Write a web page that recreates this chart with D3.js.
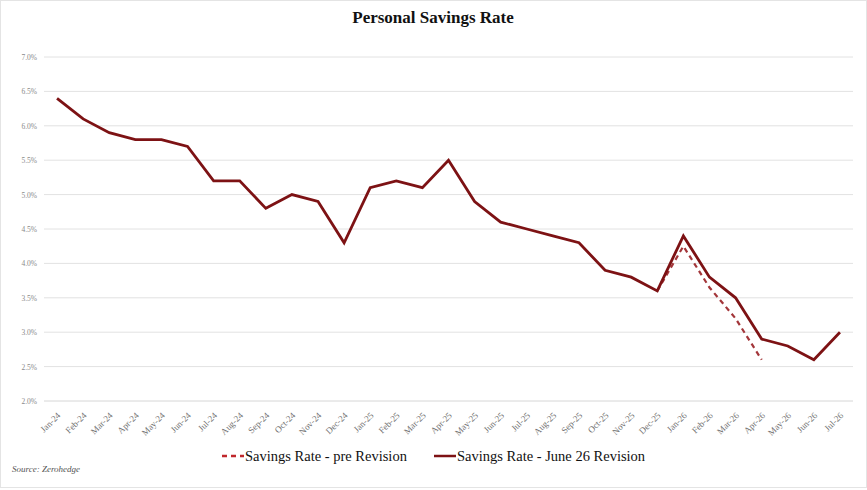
<!DOCTYPE html>
<html>
<head>
<meta charset="utf-8">
<script src="https://cdn.jsdelivr.net/npm/d3@7"></script>
<style>
  html, body { margin: 0; padding: 0; background: #fff; }
  svg { display: block; }
</style>
</head>
<body>
<div id="chart"></div>
<script>
// --- DATA ---
const months = ['Jan-24','Feb-24','Mar-24','Apr-24','May-24','Jun-24','Jul-24','Aug-24','Sep-24','Oct-24','Nov-24','Dec-24',
                'Jan-25','Feb-25','Mar-25','Apr-25','May-25','Jun-25','Jul-25','Aug-25','Sep-25','Oct-25','Nov-25','Dec-25',
                'Jan-26','Feb-26','Mar-26','Apr-26','May-26','Jun-26','Jul-26'];
const revised = [6.4, 6.1, 5.9, 5.8, 5.8, 5.7, 5.2, 5.2, 4.8, 5.0, 4.9, 4.3,
                 5.1, 5.2, 5.1, 5.5, 4.9, 4.6, 4.5, 4.4, 4.3, 3.9, 3.8, 3.6,
                 4.4, 3.8, 3.5, 2.9, 2.8, 2.6, 3.0];
const preMonths = ['Dec-25','Jan-26','Feb-26','Mar-26','Apr-26'];
const preValues = [3.6, 4.25, 3.65, 3.2, 2.6];
const yTicks = [2.0, 2.5, 3.0, 3.5, 4.0, 4.5, 5.0, 5.5, 6.0, 6.5, 7.0];
const seriesNames = ['Savings Rate - pre Revision', 'Savings Rate - June 26 Revision'];

// --- SETUP ---
const width = 867, height = 490;
const margin = { top: 57, right: 14, bottom: 89, left: 44 };
const serif = '"Liberation Serif", "DejaVu Serif", serif';
const lineColor = '#7d1214';
const dashColor = '#a3363a';

const svg = d3.select('#chart').append('svg')
  .attr('width', width)
  .attr('height', height);

// frame
svg.append('rect')
  .attr('x', 0.5).attr('y', 0.5)
  .attr('width', width - 1).attr('height', height - 3)
  .attr('fill', '#fff')
  .attr('stroke', '#e4e4e4');

svg.append('text')
  .attr('x', 433).attr('y', 23)
  .attr('text-anchor', 'middle')
  .style('font-family', serif)
  .style('font-weight', 'bold')
  .style('font-size', '17px')
  .attr('fill', '#111')
  .text('Personal Savings Rate');

const x = d3.scaleBand()
  .domain(months)
  .range([margin.left, width - margin.right]);
const xc = d => x(d) + x.bandwidth() / 2;

const y = d3.scaleLinear()
  .domain([2.0, 7.0])
  .range([height - margin.bottom, margin.top]);

// gridlines
svg.append('g')
  .selectAll('line')
  .data(yTicks)
  .enter().append('line')
    .attr('x1', margin.left)
    .attr('x2', width - margin.right)
    .attr('y1', d => y(d))
    .attr('y2', d => y(d))
    .attr('stroke', d => d === 2.0 ? '#d6d6d6' : '#e2e2e2')
    .attr('stroke-width', 1);

// y axis labels
const yAxis = svg.append('g')
  .attr('transform', `translate(${margin.left},0)`)
  .call(d3.axisLeft(y).tickValues(yTicks).tickSize(0).tickPadding(7)
    .tickFormat(d => d3.format('.1f')(d) + '%'));
yAxis.select('.domain').remove();
yAxis.selectAll('text')
  .style('font-family', serif)
  .style('font-size', '7.5px')
  .style('fill', '#8a8a8a');

// x axis labels
const xAxis = svg.append('g')
  .attr('transform', `translate(0,${height - margin.bottom})`)
  .call(d3.axisBottom(x).tickSize(0).tickPadding(0));
xAxis.select('.domain').remove();
xAxis.selectAll('text')
  .style('font-family', serif)
  .style('font-size', '9px')
  .style('fill', '#707070')
  .attr('text-anchor', 'end')
  .attr('dy', 0)
  .attr('transform', 'translate(4,15) rotate(-45)');

// lines
const line = d3.line()
  .x(d => xc(d.m))
  .y(d => y(d.v));

const preData = preMonths.map((m, i) => ({ m, v: preValues[i] }));
const revData = months.map((m, i) => ({ m, v: revised[i] }));

svg.append('path')
  .datum(preData)
  .attr('fill', 'none')
  .attr('stroke', dashColor)
  .attr('stroke-width', 2.2)
  .attr('stroke-dasharray', '5,4')
  .attr('d', line);

svg.append('path')
  .datum(revData)
  .attr('fill', 'none')
  .attr('stroke', lineColor)
  .attr('stroke-width', 2.8)
  .attr('stroke-linejoin', 'miter')
  .attr('d', line);

// legend
const legend = svg.append('g').attr('transform', 'translate(0,456)');
const legItems = [
  { name: seriesNames[0], x: 222, dash: '5,4', color: '#c0282c' },
  { name: seriesNames[1], x: 434, dash: null, color: lineColor }
];
legItems.forEach(it => {
  legend.append('line')
    .attr('x1', it.x).attr('x2', it.x + 22)
    .attr('y1', 0).attr('y2', 0)
    .attr('stroke', it.color)
    .attr('stroke-width', 2.5)
    .attr('stroke-dasharray', it.dash);
  legend.append('text')
    .attr('x', it.x + 23).attr('y', 5)
    .style('font-family', serif)
    .style('font-size', '14.5px')
    .attr('fill', '#111')
    .text(it.name);
});

// source
svg.append('text')
  .attr('x', 12).attr('y', 472)
  .style('font-family', serif)
  .style('font-style', 'italic')
  .style('font-size', '9px')
  .attr('fill', '#555')
  .text('Source: Zerohedge');
</script>
</body>
</html>
